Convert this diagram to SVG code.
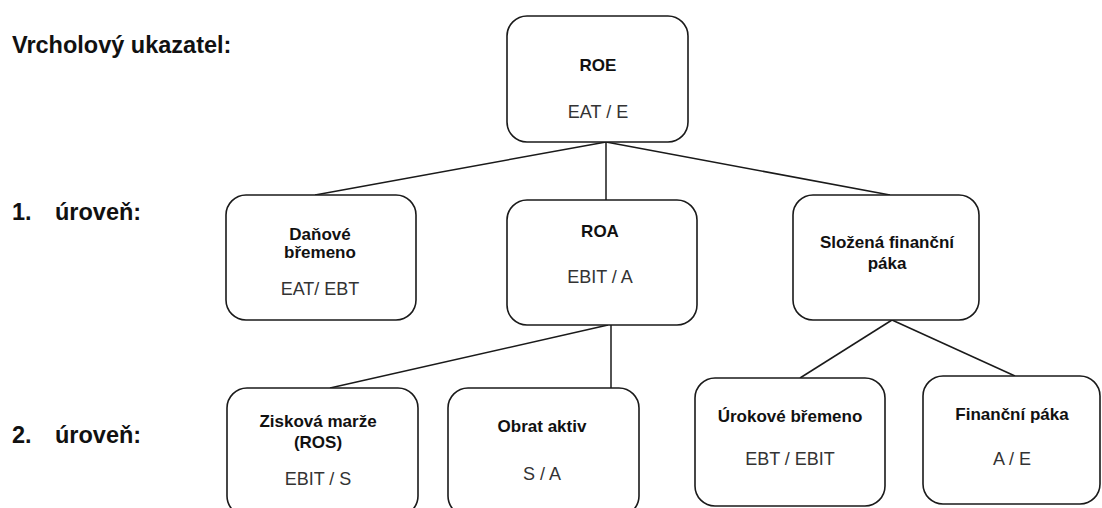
<svg xmlns="http://www.w3.org/2000/svg" width="1102" height="508" viewBox="0 0 1102 508">
<style>
.box{fill:#fff;stroke:#1a1a1a;stroke-width:1.6}
.con line{stroke:#1a1a1a;stroke-width:1.5}
.t{font-family:"Liberation Sans",Arial,sans-serif;font-size:17px;font-weight:bold;fill:#111;text-anchor:middle}
.f{font-family:"Liberation Sans",Arial,sans-serif;font-size:18px;fill:#333;text-anchor:middle}
.lab{font-family:"Liberation Sans",Arial,sans-serif;font-size:23.5px;font-weight:bold;fill:#111}
</style>
<rect width="1102" height="508" fill="#fff"/>
<g id="labels">
<text class="lab" x="12" y="53">Vrcholový ukazatel:</text>
<text class="lab" x="12" y="220">1.</text><text class="lab" x="55" y="220">úroveň:</text>
<text class="lab" x="12" y="443">2.</text><text class="lab" x="55" y="443">úroveň:</text>
</g>
<g id="connectors" class="con">
<line x1="606" y1="142" x2="315" y2="195"/>
<line x1="606" y1="142" x2="606" y2="200"/>
<line x1="606" y1="142" x2="890" y2="195"/>
<line x1="608" y1="325" x2="330" y2="388"/>
<line x1="611" y1="325" x2="611" y2="388"/>
<line x1="892" y1="320" x2="800" y2="378"/>
<line x1="892" y1="320" x2="1015" y2="376"/>
</g>
<g id="roe"><rect class="box" x="507" y="16" width="181" height="126" rx="20"/>
<text class="t" x="598" y="71">ROE</text><text class="f" x="598" y="118">EAT / E</text></g>
<g id="danove"><rect class="box" x="226" y="195" width="190" height="125" rx="20"/>
<text class="t" x="320" y="240">Daňové</text><text class="t" x="320" y="258">břemeno</text><text class="f" x="320" y="295">EAT/ EBT</text></g>
<g id="roa"><rect class="box" x="507" y="200" width="190" height="125" rx="20"/>
<text class="t" x="600" y="237">ROA</text><text class="f" x="600" y="283">EBIT / A</text></g>
<g id="slozena"><rect class="box" x="793" y="195" width="186" height="125" rx="20"/>
<text class="t" x="887" y="248">Složená finanční</text><text class="t" x="887" y="269">páka</text></g>
<g id="ziskova"><rect class="box" x="227" y="388" width="191" height="128" rx="20"/>
<text class="t" x="318" y="427">Zisková marže</text><text class="t" x="318" y="448">(ROS)</text><text class="f" x="318" y="485">EBIT / S</text></g>
<g id="obrat"><rect class="box" x="448" y="388" width="191" height="128" rx="20"/>
<text class="t" x="542" y="432">Obrat aktiv</text><text class="f" x="542" y="480">S / A</text></g>
<g id="urokove"><rect class="box" x="695" y="378" width="190" height="128" rx="20"/>
<text class="t" x="790" y="422">Úrokové břemeno</text><text class="f" x="790" y="465">EBT / EBIT</text></g>
<g id="financni"><rect class="box" x="923" y="376" width="177" height="128" rx="20"/>
<text class="t" x="1012" y="420">Finanční páka</text><text class="f" x="1012" y="465">A / E</text></g>
</svg>
